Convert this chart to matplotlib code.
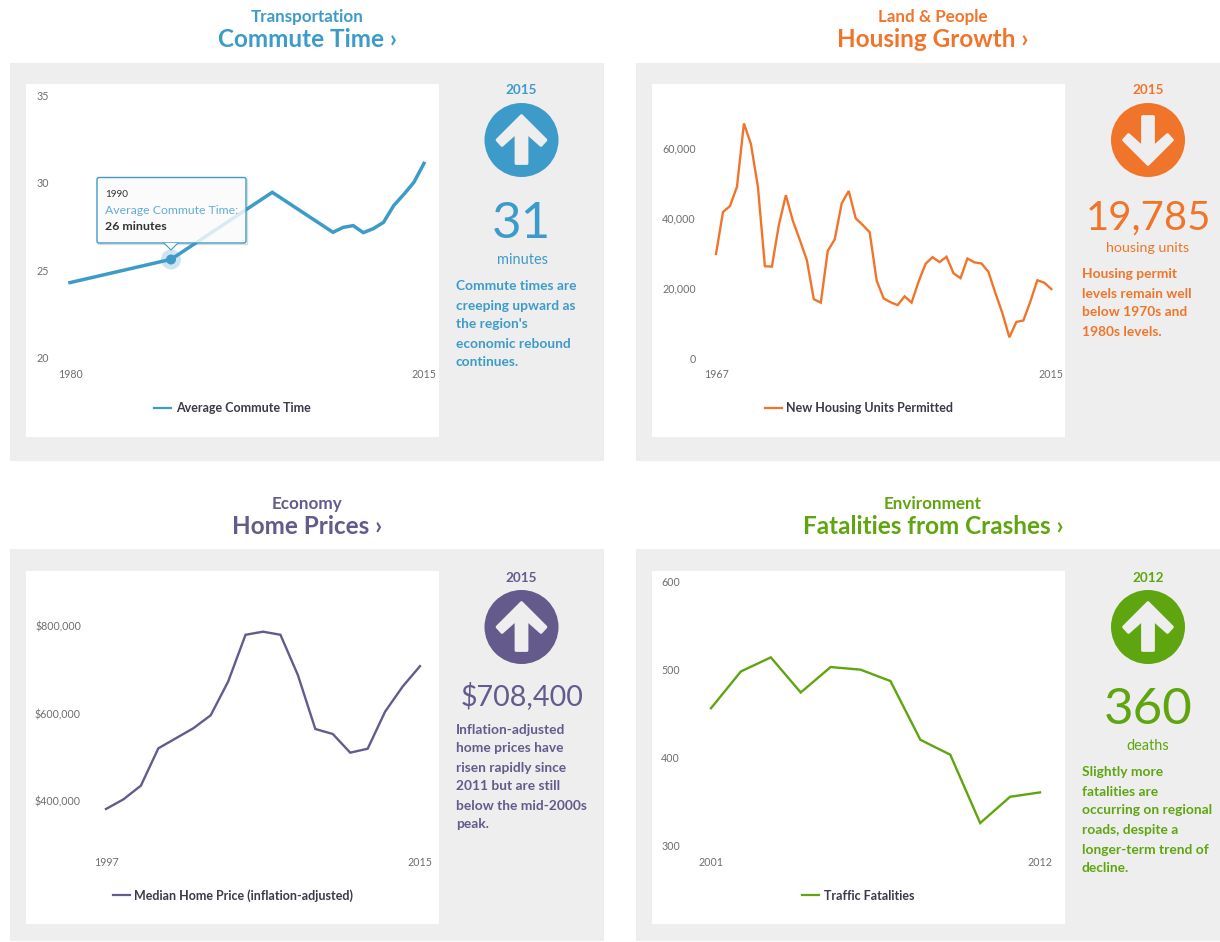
import matplotlib
matplotlib.use("Agg")
import matplotlib.pyplot as plt
from matplotlib.patches import Rectangle, Circle, Polygon, FancyBboxPatch

plt.rcParams['font.family'] = ['Lato', 'DejaVu Sans']

# Data
commute_years = [1980, 1990, 2000, 2006, 2007, 2008, 2009, 2010, 2011, 2012, 2013, 2014, 2015]
commute_minutes = [24.3, 25.63, 29.45, 27.17, 27.45, 27.55, 27.15, 27.38, 27.74, 28.69, 29.33, 30.02, 31.1]

housing_years = list(range(1967, 2016))
housing_units = [29810, 41800, 43500, 49000, 67100, 61200, 49000, 26300, 26200, 38100,
                 46600, 39300, 33800, 28100, 16900, 15900, 30700, 34000, 44300, 47800,
                 40000, 38100, 36000, 22200, 17100, 16000, 15200, 17700, 15900, 21900,
                 27000, 28900, 27500, 29000, 24300, 22900, 28500, 27400, 27100, 24700,
                 18600, 12900, 6000, 10400, 10800, 16200, 22300, 21600, 19785]

price_years = list(range(1997, 2016))
home_prices = [382500, 404500, 435700, 520900, 543700, 566500, 596200, 673000, 780000, 787000,
               780000, 688000, 565000, 553600, 511000, 520000, 604600, 661600, 708400]

crash_years = list(range(2001, 2013))
crash_deaths = [456, 498, 514, 474, 503, 500, 487, 420, 403, 325, 355, 360]

BLUE = '#3d9bc9'
ORANGE = '#f0752b'
PURPLE = '#645a8b'
GREEN = '#5fa50f'
GREY_BG = '#eeeeee'
TICK = '#6e6e6e'
DARK = '#3a3a48'

W, H = 1220, 942
fig = plt.figure(figsize=(W / 100, H / 100), dpi=100, facecolor='white')

# background layer in pixel coordinates
bg = fig.add_axes([0, 0, 1, 1], zorder=0)
bg.set_xlim(0, W)
bg.set_ylim(H, 0)
bg.axis('off')

# top layer for the tooltip
top = fig.add_axes([0, 0, 1, 1], zorder=5)
top.set_xlim(0, W)
top.set_ylim(H, 0)
top.axis('off')
top.patch.set_alpha(0)


def px(size):
    return size * 0.72


def label(ax, x, y, s, size, color, weight='normal', ha='center'):
    ax.text(x, y + 1.5, s, fontsize=px(size), color=color, fontweight=weight, ha=ha, va='center')


def arrow_icon(cx, cy, color, up=True):
    bg.add_patch(Circle((cx, cy), 37, color=color, lw=0))
    s = 1 if up else -1
    shape = [(0, -24.5), (24.5, 0), (19.5, 5.5), (5.5, -7), (5.5, 23.5),
             (-5.5, 23.5), (-5.5, -7), (-19.5, 5.5), (-24.5, 0)]
    pts = [(cx + a, cy + b * s) for a, b in shape]
    bg.add_patch(Polygon(pts, closed=True, fc=GREY_BG, ec=GREY_BG, lw=2, joinstyle='round'))


def chart(rect, xs, ys, color, xlim, ylim, yticks, yticklabels, ypad, xlabel_y, lw, name, legend_center):
    x0, y0, x1, y1 = rect
    ax = fig.add_axes([x0 / W, 1 - y1 / H, (x1 - x0) / W, (y1 - y0) / H], zorder=2)
    ax.patch.set_alpha(0)
    ax.set_xlim(*xlim)
    ax.set_ylim(*ylim)
    ax.plot(xs, ys, color=color, lw=lw, clip_on=False, label=name, solid_joinstyle='miter')
    ax.set_xticks(list(xlim))
    ax.set_xticklabels([str(v) for v in xlim])
    ax.set_yticks(yticks)
    ax.set_yticklabels(yticklabels)
    ax.tick_params(axis='x', length=0, pad=px(xlabel_y - 5 - y1), labelsize=px(10.6), labelcolor=TICK)
    ax.tick_params(axis='y', length=0, pad=px(ypad), labelsize=px(10.6), labelcolor=TICK)
    for s in ax.spines.values():
        s.set_visible(False)
    leg = ax.legend(loc='center', bbox_to_anchor=legend_center, bbox_transform=bg.transData,
                    frameon=False, fontsize=px(12.5), handlelength=1.36, handletextpad=0.4,
                    borderpad=0, borderaxespad=0)
    for h in leg.get_lines():
        h.set_linewidth(1.6)
    for t in leg.get_texts():
        t.set_color(DARK)
        t.set_fontweight('bold')
    return ax


# grey and white panels
for (a, b, c, d) in [(10, 63, 604, 461), (636, 63, 1220, 461), (10, 549, 604, 941), (636, 549, 1220, 941)]:
    bg.add_patch(Rectangle((a, b), c - a, d - b, color=GREY_BG, lw=0))
for (a, b, c, d) in [(26, 84, 439, 437), (652, 84, 1065, 437), (26, 571, 439, 924), (652, 571, 1065, 924)]:
    bg.add_patch(Rectangle((a, b), c - a, d - b, color='white', lw=0))

# headers
label(bg, 307, 15.5, 'Transportation', 17, BLUE, 'bold')
label(bg, 307, 38, 'Commute Time ›', 24.2, BLUE, 'bold')
label(bg, 933, 15.5, 'Land & People', 17, ORANGE, 'bold')
label(bg, 933, 38, 'Housing Growth ›', 24.2, ORANGE, 'bold')
label(bg, 307, 502.5, 'Economy', 17, PURPLE, 'bold')
label(bg, 307, 525, 'Home Prices ›', 24.2, PURPLE, 'bold')
label(bg, 933, 502.5, 'Environment', 17, GREEN, 'bold')
label(bg, 933, 525, 'Fatalities from Crashes ›', 24.2, GREEN, 'bold')

# charts
chart((70, 95, 424, 358), commute_years, commute_minutes, BLUE, (1980, 2015), (20, 35),
      [20, 25, 30, 35], ['20', '25', '30', '35'], 21, 374, 2.5, 'Average Commute Time', (232, 408.5))
chart((716, 148.3, 1051.3, 358.3), housing_years, housing_units, ORANGE, (1967, 2015), (0, 60000),
      [0, 20000, 40000, 60000], ['0', '20,000', '40,000', '60,000'], 20, 374, 1.7,
      'New Housing Units Permitted', (859, 408.5))
chart((106, 626, 420, 801.3), price_years, home_prices, PURPLE, (1997, 2015), (400000, 800000),
      [400000, 600000, 800000], ['$400,000', '$600,000', '$800,000'], 25, 861.7, 1.7,
      'Median Home Price (inflation-adjusted)', (233, 895.5))
chart((711, 582, 1040, 845), crash_years, crash_deaths, GREEN, (2001, 2012), (300, 600),
      [300, 400, 500, 600], ['300', '400', '500', '600'], 31, 861.7, 1.7, 'Traffic Fatalities', (858.5, 895.5))

# side columns
label(bg, 521, 89, '2015', 13.5, BLUE, 'bold')
arrow_icon(521.5, 140, BLUE, up=True)
label(bg, 521, 223, '31', 51, BLUE)
label(bg, 522, 258, 'minutes', 14.5, BLUE)
for y, s in zip([284, 304, 323, 342, 361],
                ['Commute times are', 'creeping upward as', "the region's", 'economic rebound', 'continues.']):
    label(bg, 456, y, s, 13.8, BLUE, 'bold', ha='left')

label(bg, 1148, 89, '2015', 13.5, ORANGE, 'bold')
arrow_icon(1148, 140, ORANGE, up=False)
label(bg, 1148, 216, '19,785', 40, ORANGE)
label(bg, 1148, 246, 'housing units', 14.3, ORANGE)
for y, s in zip([273, 292, 311, 330],
                ['Housing permit', 'levels remain well', 'below 1970s and', '1980s levels.']):
    label(bg, 1082, y, s, 13.8, ORANGE, 'bold', ha='left')

label(bg, 521, 576, '2015', 13.5, PURPLE, 'bold')
arrow_icon(521.5, 627, PURPLE, up=True)
label(bg, 522, 695, '$708,400', 28.7, PURPLE)
for y, s in zip([728, 747, 766, 785, 804, 823],
                ['Inflation-adjusted', 'home prices have', 'risen rapidly since', '2011 but are still',
                 'below the mid-2000s', 'peak.']):
    label(bg, 456, y, s, 13.8, PURPLE, 'bold', ha='left')

label(bg, 1148, 576, '2012', 13.5, GREEN, 'bold')
arrow_icon(1148, 627, GREEN, up=True)
label(bg, 1148, 709, '360', 51, GREEN)
label(bg, 1148, 744, 'deaths', 14.5, GREEN)
for y, s in zip([771, 790, 809, 829, 848, 867],
                ['Slightly more', 'fatalities are', 'occurring on regional', 'roads, despite a',
                 'longer-term trend of', 'decline.']):
    label(bg, 1082, y, s, 13.8, GREEN, 'bold', ha='left')

# tooltip on the commute chart
top.add_patch(Circle((171, 259.5), 10, color=BLUE, alpha=0.25, lw=0))
top.add_patch(Circle((171, 259.5), 5, color=BLUE, lw=0))
top.plot([98, 247, 247], [244, 244, 179], color='#777777', alpha=0.25, lw=1)
top.add_patch(FancyBboxPatch((97, 177.5), 149, 65.5, boxstyle='round,pad=0,rounding_size=2',
                             fc='#fbfbfb', ec='none', alpha=0.83))
top.add_patch(FancyBboxPatch((97, 177.5), 149, 65.5, boxstyle='round,pad=0,rounding_size=2',
                             fc='none', ec=BLUE, lw=1))
top.add_patch(Polygon([[164, 243], [171, 250], [178, 243]], closed=True, fc='#fbfbfb', ec='none', zorder=3))
top.plot([164, 171, 178], [243, 250, 243], color=BLUE, lw=0.8, zorder=3)
label(top, 105, 193, '1990', 10, '#333333', ha='left')
label(top, 105, 209, 'Average Commute Time:', 12.2, '#62aed4', ha='left')
label(top, 105, 225, '26 minutes', 12.4, '#333333', 'bold', ha='left')

fig.savefig('out.png', dpi=100, facecolor='white')
